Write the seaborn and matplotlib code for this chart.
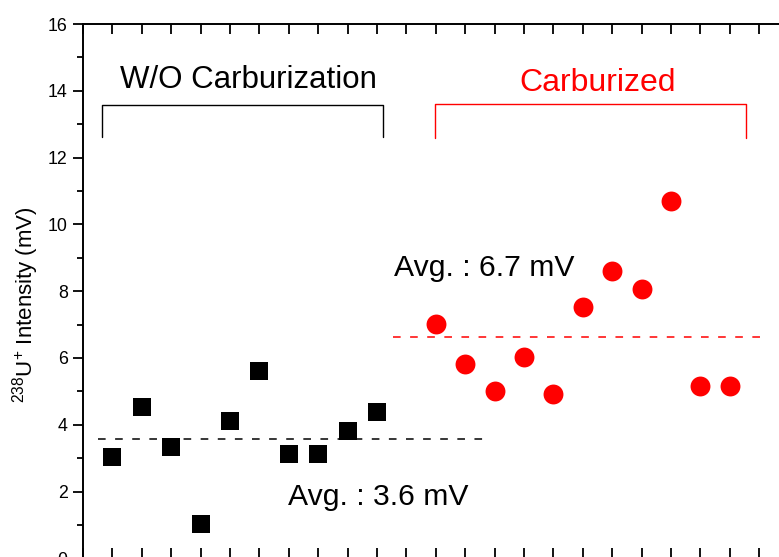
import numpy as np
import pandas as pd
import seaborn as sns
import matplotlib.pyplot as plt
from matplotlib.ticker import MultipleLocator

# sample index and 238U+ signal (mV)
wo_idx = [1, 2, 3, 4, 5, 6, 7, 8, 9, 10]
wo_val = [3.03, 4.52, 3.33, 1.03, 4.12, 5.62, 3.13, 3.13, 3.82, 4.37]

carb_idx = [12, 13, 14, 15, 16, 17, 18, 19, 20, 21, 22]
carb_val = [7.02, 5.82, 5.02, 6.02, 4.92, 7.52, 8.61, 8.07, 10.71, 5.16, 5.16]

wo_avg = 3.57
carb_avg = 6.62
wo_avg_span = [0.5, 13.7]
carb_avg_span = [10.55, 23.2]

wo_label = "W/O Carburization"
carb_label = "Carburized"
wo_avg_text = "Avg. : 3.6 mV"
carb_avg_text = "Avg. : 6.7 mV"

# bracket outlines (x left, x right, y top, y bottom of legs)
wo_bracket = [0.65, 10.19, 13.57, 12.61]
carb_bracket = [11.97, 22.54, 13.61, 12.6]

wo = pd.DataFrame({"sample": wo_idx, "signal": wo_val})
carb = pd.DataFrame({"sample": carb_idx, "signal": carb_val})

sns.set_style("ticks")
plt.rcParams["font.family"] = ["Liberation Sans", "DejaVu Sans"]
plt.rcParams["mathtext.default"] = "regular"
plt.rcParams["text.color"] = "black"
plt.rcParams["axes.labelcolor"] = "black"
plt.rcParams["xtick.color"] = "black"
plt.rcParams["ytick.color"] = "black"

fig = plt.figure(figsize=(7.79, 5.57), dpi=100)
ax = fig.add_axes([0.10655, -0.0025, 0.9058, 0.9594])

sns.scatterplot(data=wo, x="sample", y="signal", marker="s", s=150,
                color="black", linewidth=0, ax=ax, zorder=3)
sns.scatterplot(data=carb, x="sample", y="signal", marker="o", s=205,
                color="#ff0000", linewidth=0, ax=ax, zorder=3)

ax.plot(wo_avg_span, [wo_avg, wo_avg], color="black", lw=1.1,
        dashes=(5.0, 6.2))
ax.plot(carb_avg_span, [carb_avg, carb_avg], color="#ff0000", lw=1.1,
        dashes=(5.0, 6.2))

for (x0, x1, yt, yb), c in [(wo_bracket, "black"), (carb_bracket, "#ff0000")]:
    ax.plot([x0, x0, x1, x1], [yb, yt, yt, yb], color=c, lw=1.0)

ax.text(5.61, 14.07, wo_label, ha="center", va="baseline", fontsize=22.5,
        color="black")
ax.text(17.5, 14.0, carb_label, ha="center", va="baseline", fontsize=23,
        color="#ff0000")
ax.text(10.58, 8.46, carb_avg_text, ha="left", va="baseline", fontsize=21.7)
ax.text(6.98, 1.60, wo_avg_text, ha="left", va="baseline", fontsize=21.7)

ax.set_xlim(0, 24)
ax.set_ylim(0, 16)
ax.xaxis.set_major_locator(MultipleLocator(1))
ax.yaxis.set_major_locator(MultipleLocator(2))
ax.yaxis.set_minor_locator(MultipleLocator(1))

for sp in ax.spines.values():
    sp.set_visible(True)
    sp.set_linewidth(1.4)
    sp.set_color("black")

ax.tick_params(axis="x", which="major", direction="in", length=7, width=1.3,
               top=True, bottom=True, labelbottom=False)
ax.tick_params(axis="y", which="major", direction="out", length=7, width=1.3,
               left=True, right=False, labelsize=12.8, pad=4)
ax.tick_params(axis="y", which="minor", direction="out", length=4.3,
               width=1.3, left=True, right=False)

sec = ax.secondary_yaxis("right")
sec.yaxis.set_major_locator(MultipleLocator(2))
sec.tick_params(direction="in", length=7.5, width=1.3, labelright=False)
sec.spines["right"].set_linewidth(1.4)

ax.set_xlabel("")
ax.set_ylabel("$^{238}$U$^{+}$ Intensity (mV)", fontsize=16)
ax.yaxis.set_label_coords(-0.06, 0.474)

fig.savefig("out.png", dpi=100)
